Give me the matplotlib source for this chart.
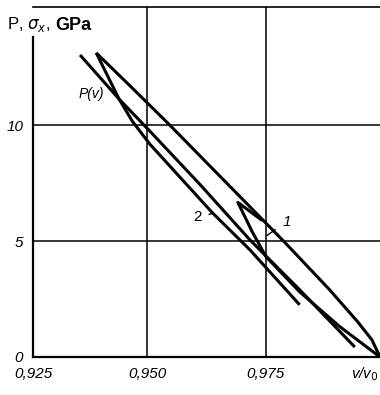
import matplotlib
matplotlib.use("Agg")
import matplotlib.pyplot as plt

plt.rcParams['font.family'] = ['Liberation Sans', 'DejaVu Sans']

# upper branch (loading), v/v0 vs stress GPa
upper_v = [0.9393, 0.9471, 0.9548, 0.9670, 0.9790, 0.9884, 0.9943, 0.9973, 0.9990]
upper_p = [13.12, 11.56, 10.00, 7.45, 4.94, 2.90, 1.52, 0.74, 0.0]

# P(v) curve
pv_v = [0.9359, 0.9441, 0.9506, 0.9611, 0.9716, 0.9821, 0.9937]
pv_p = [13.03, 11.13, 9.74, 7.45, 5.06, 2.90, 0.43]

# curve 2
c2_v = [0.9393, 0.9441, 0.9469, 0.9506, 0.9637, 0.9716, 0.9821]
c2_p = [13.12, 11.13, 10.17, 9.18, 6.23, 4.63, 2.25]

# curve 1 (small loop)
c1_v = [0.9742, 0.9691, 0.9721, 0.9750, 0.9821, 0.9906, 0.9990]
c1_p = [5.89, 6.67, 5.41, 4.33, 2.81, 1.30, 0.0]

fig = plt.figure(figsize=(3.8, 3.95), dpi=100)
ax = fig.add_axes([33/380, 38/395, 347/380, 350/395])

lw = 2.2
for xs, ys in [(upper_v, upper_p), (pv_v, pv_p), (c2_v, c2_p), (c1_v, c1_p)]:
    ax.plot(xs, ys, color='black', lw=lw, solid_capstyle='butt', solid_joinstyle='round')

ax.set_xlim(0.926, 0.999)
ax.set_ylim(0, 15.1)

ax.set_xticks([0.950, 0.975])
ax.set_xticklabels(['0,950', '0,975'], fontsize=11, style='italic')
ax.set_yticks([0, 5, 10])
ax.set_yticklabels(['0', '5', '10'], fontsize=11, style='italic')
ax.tick_params(length=0, pad=7)
ax.grid(True, color='black', lw=1.1)

ax.spines['right'].set_visible(False)
ax.spines['top'].set_linewidth(1.2)
ax.spines['bottom'].set_linewidth(1.6)
ax.spines['left'].set_linewidth(1.6)
ax.spines['left'].set_bounds(0, 13.8)

ax.text(0.926, -0.75, '0,925', fontsize=11, style='italic', ha='center', va='center')
ax.text(0.9988, -0.75, 'v/v$_0$', fontsize=11, style='italic', ha='right', va='center')

fig.text(7/380, 1 - 25/395, 'P, $\\sigma_x$, ', fontsize=12, va='center')
fig.text(55/380, 1 - 25/395, 'GPa', fontsize=13, weight='bold', va='center')

ax.text(0.9382, 11.34, 'P(v)', fontsize=10, style='italic', ha='center', va='center')
ax.annotate('2', xy=(0.9637, 6.19), xytext=(0.9607, 6.02), fontsize=11,
            ha='center', va='center', arrowprops=dict(arrowstyle='-', lw=1.0, shrinkA=3, shrinkB=0))
ax.annotate('1', xy=(0.9752, 5.24), xytext=(0.9794, 5.84), fontsize=11, style='italic',
            ha='center', va='center', arrowprops=dict(arrowstyle='-', lw=1.0, shrinkA=4, shrinkB=0))

fig.savefig('out.png', dpi=100)
